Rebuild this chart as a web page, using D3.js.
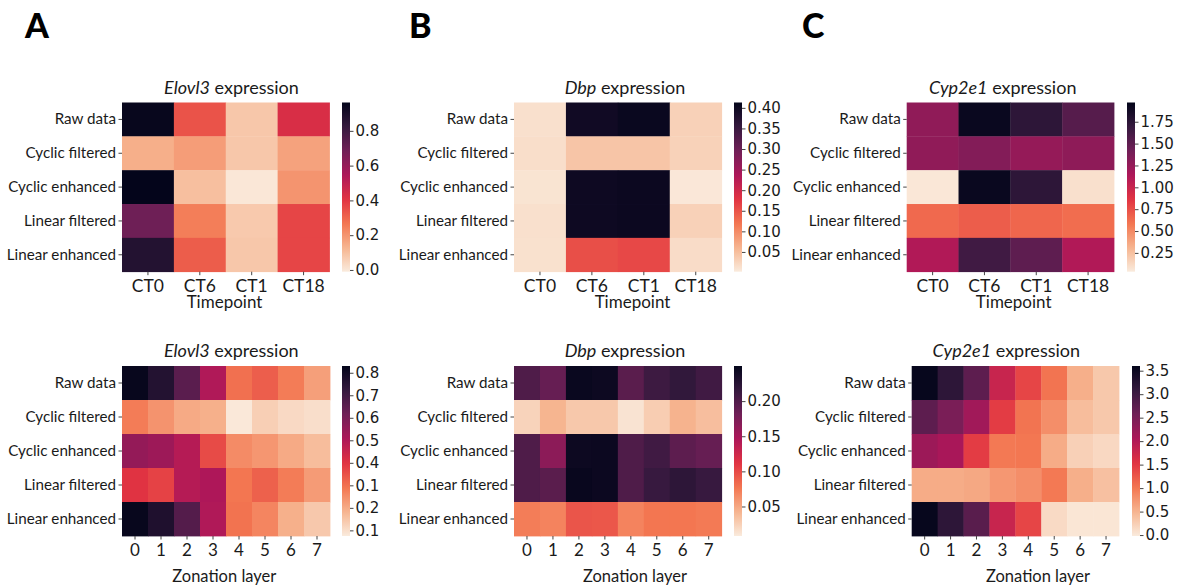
<!DOCTYPE html>
<html>
<head>
<meta charset="utf-8">
<script src="https://cdn.jsdelivr.net/npm/d3@7"></script>
<style>
  html, body { margin: 0; padding: 0; background: #fff; }
  svg { display: block; }
  .lbl { font-family: Lato, "Open Sans", sans-serif; fill: #1a1a1a; }
  .cbtick text { font-family: "DejaVu Sans", sans-serif; font-size: 15px; fill: #1a1a1a; }
  .tick line { stroke: #444; stroke-width: 1; }
</style>
</head>
<body>
<svg id="fig" width="1178" height="587"></svg>
<script>
// ---- categories ----
const methods = ["Raw data", "Cyclic filtered", "Cyclic enhanced", "Linear filtered", "Linear enhanced"];
const timepoints = ["CT0", "CT6", "CT1", "CT18"];
const layers = ["0", "1", "2", "3", "4", "5", "6", "7"];

// ---- expression by timepoint (rows = methods, cols = timepoints) ----
const elovl3Time = [
  [0.95, 0.34, 0.08, 0.43],
  [0.14, 0.18, 0.08, 0.17],
  [0.96, 0.10, 0.00, 0.20],
  [0.69, 0.25, 0.075, 0.37],
  [0.875, 0.32, 0.08, 0.37]
];
const dbpTime = [
  [0.014, 0.397, 0.405, 0.030],
  [0.016, 0.043, 0.043, 0.029],
  [0.010, 0.400, 0.403, 0.006],
  [0.014, 0.400, 0.403, 0.030],
  [0.013, 0.154, 0.160, 0.018]
];
const cyp2e1Time = [
  [1.27, 1.93, 1.74, 1.54],
  [1.27, 1.33, 1.25, 1.28],
  [0.055, 1.93, 1.74, 0.09],
  [0.64, 0.69, 0.655, 0.625],
  [1.12, 1.64, 1.50, 1.12]
];

// ---- expression by zonation layer (rows = methods, cols = layers) ----
const elovl3Zone = [
  [0.82, 0.76, 0.655, 0.50, 0.30, 0.33, 0.28, 0.22],
  [0.28, 0.24, 0.20, 0.19, 0.08, 0.13, 0.11, 0.10],
  [0.55, 0.535, 0.49, 0.36, 0.255, 0.235, 0.20, 0.165],
  [0.40, 0.375, 0.49, 0.505, 0.29, 0.325, 0.28, 0.227],
  [0.82, 0.77, 0.665, 0.50, 0.295, 0.265, 0.19, 0.143]
];
const dbpZone = [
  [0.200, 0.187, 0.245, 0.243, 0.194, 0.211, 0.218, 0.209],
  [0.023, 0.042, 0.030, 0.030, 0.013, 0.027, 0.043, 0.036],
  [0.200, 0.165, 0.243, 0.244, 0.200, 0.209, 0.192, 0.187],
  [0.200, 0.194, 0.246, 0.244, 0.200, 0.214, 0.221, 0.214],
  [0.073, 0.070, 0.094, 0.093, 0.070, 0.077, 0.077, 0.075]
];
const cyp2e1Zone = [
  [3.56, 3.17, 2.73, 1.79, 1.39, 1.03, 0.54, 0.31],
  [2.73, 2.48, 2.15, 1.46, 1.03, 0.81, 0.41, 0.31],
  [2.19, 2.08, 1.46, 0.99, 1.01, 0.56, 0.23, 0.16],
  [0.56, 0.56, 0.60, 0.74, 0.81, 0.99, 0.54, 0.38],
  [3.56, 3.17, 2.77, 1.79, 1.39, 0.14, 0.03, 0.03]
];

// ---- colour ranges and colorbar ticks ----
const elovl3TimeRange = [-0.01, 0.963];
const dbpTimeRange = [0.002, 0.413];
const cyp2e1TimeRange = [0.035, 1.97];
const elovl3ZoneRange = [0.075, 0.83];
const dbpZoneRange = [0.008, 0.25];
const cyp2e1ZoneRange = [-0.02, 3.6];

const elovl3TimeTicks = [0.0, 0.2, 0.4, 0.6, 0.8];
const elovl3TimeTickLabels = ["0.0", "0.2", "0.4", "0.6", "0.8"];
const dbpTimeTicks = [0.05, 0.10, 0.15, 0.20, 0.25, 0.30, 0.35, 0.40];
const dbpTimeTickLabels = ["0.05", "0.10", "0.15", "0.20", "0.25", "0.30", "0.35", "0.40"];
const cyp2e1TimeTicks = [0.25, 0.50, 0.75, 1.00, 1.25, 1.50, 1.75];
const cyp2e1TimeTickLabels = ["0.25", "0.50", "0.75", "1.00", "1.25", "1.50", "1.75"];
const elovl3ZoneTicks = [0.1, 0.2, 0.3, 0.4, 0.5, 0.6, 0.7, 0.8];
const elovl3ZoneTickLabels = ["0.1", "0.2", "0.1", "0.4", "0.5", "0.6", "0.7", "0.8"];
const dbpZoneTicks = [0.05, 0.10, 0.15, 0.20];
const dbpZoneTickLabels = ["0.05", "0.10", "0.15", "0.20"];
const cyp2e1ZoneTicks = [0.0, 0.5, 1.0, 1.5, 2.0, 2.5, 3.0, 3.5];
const cyp2e1ZoneTickLabels = ["0.0", "0.5", "1.0", "1.5", "2.0", "2.5", "3.0", "3.5"];

// reversed "rocket" colour map: light cream (low) to near-black (high)
const rocketStops = ["#03051a", "#35193e", "#701f57", "#ad1759", "#e13342", "#f37651", "#f6b48f", "#faebdd"];
const rocketR = d3.piecewise(d3.interpolateRgb, rocketStops.slice().reverse());

// ---- layout ----
const TOP = { y: 102.5, h: 169.2 };
const BOT = { y: 366, h: 170 };
const panels = [
  { gene: "Elovl3", data: elovl3Time, cols: timepoints, xTitle: "Timepoint", range: elovl3TimeRange, ticks: elovl3TimeTicks, tickLabels: elovl3TimeTickLabels,
    x: 122, w: 207.5, row: TOP, cbX: 342, titleX: 231.5, xTitleX: 224.5, zone: false },
  { gene: "Dbp", data: dbpTime, cols: timepoints, xTitle: "Timepoint", range: dbpTimeRange, ticks: dbpTimeTicks, tickLabels: dbpTimeTickLabels,
    x: 514, w: 207.7, row: TOP, cbX: 734, titleX: 625, xTitleX: 632.5, zone: false },
  { gene: "Cyp2e1", data: cyp2e1Time, cols: timepoints, xTitle: "Timepoint", range: cyp2e1TimeRange, ticks: cyp2e1TimeTicks, tickLabels: cyp2e1TimeTickLabels,
    x: 906.7, w: 207.3, row: TOP, cbX: 1127, titleX: 1002.7, xTitleX: 1013.7, zone: false },
  { gene: "Elovl3", data: elovl3Zone, cols: layers, xTitle: "Zonation layer", range: elovl3ZoneRange, ticks: elovl3ZoneTicks, tickLabels: elovl3ZoneTickLabels,
    x: 122, w: 208, row: BOT, cbX: 342, titleX: 231.3, xTitleX: 224.3, zone: true },
  { gene: "Dbp", data: dbpZone, cols: layers, xTitle: "Zonation layer", range: dbpZoneRange, ticks: dbpZoneTicks, tickLabels: dbpZoneTickLabels,
    x: 514, w: 207.7, row: BOT, cbX: 734, titleX: 625, xTitleX: 635, zone: true },
  { gene: "Cyp2e1", data: cyp2e1Zone, cols: layers, xTitle: "Zonation layer", range: cyp2e1ZoneRange, ticks: cyp2e1ZoneTicks, tickLabels: cyp2e1ZoneTickLabels,
    x: 911.7, w: 207.3, row: BOT, cbX: 1132, titleX: 1006.3, xTitleX: 1038, zone: true }
];
const CB_W = 8;

const svg = d3.select("#fig");
const defs = svg.append("defs");

panels.forEach((p, i) => {
  const g = svg.append("g");
  const y0 = p.row.y, h = p.row.h;

  const x = d3.scaleBand().domain(p.cols).range([p.x, p.x + p.w]).padding(0);
  const y = d3.scaleBand().domain(methods).range([y0, y0 + h]).padding(0);
  const color = d3.scaleSequential(rocketR).domain(p.range);

  // heatmap cells
  const cells = [];
  p.data.forEach((rowVals, r) => rowVals.forEach((v, c) => cells.push({ r: methods[r], c: p.cols[c], v })));
  g.append("g").selectAll("rect").data(cells).join("rect")
    .attr("x", d => x(d.c))
    .attr("y", d => y(d.r))
    .attr("width", x.bandwidth() + 0.4)
    .attr("height", y.bandwidth() + 0.4)
    .attr("fill", d => color(d.v));

  // row labels
  const yAxis = g.append("g").attr("transform", `translate(${p.x},0)`)
    .call(d3.axisLeft(y).tickSize(3.5).tickPadding(2.5));
  yAxis.select(".domain").remove();
  yAxis.selectAll("text").attr("class", "lbl").style("font-size", "15.2px");

  // column labels
  const xAxis = g.append("g").attr("transform", `translate(0,${y0 + h})`)
    .call(d3.axisBottom(x).tickSize(3.5).tickPadding(p.zone ? 4.5 : 4));
  xAxis.select(".domain").remove();
  xAxis.selectAll("text").attr("class", "lbl").style("font-size", p.zone ? "17px" : "17.5px");

  // axis title
  g.append("text").attr("class", "lbl")
    .attr("x", p.xTitleX).attr("y", p.zone ? 581.5 : 308)
    .attr("text-anchor", "middle").style("font-size", p.zone ? "16.5px" : "17px")
    .text(p.xTitle);

  // panel title
  const t = g.append("text").attr("class", "lbl")
    .attr("x", p.titleX).attr("y", y0 - 9)
    .attr("text-anchor", "middle").style("font-size", "18px");
  t.append("tspan").style("font-style", "italic").text(p.gene);
  t.append("tspan").text(" expression");

  // colorbar
  const gid = "cb" + i;
  const grad = defs.append("linearGradient").attr("id", gid)
    .attr("x1", 0).attr("y1", 1).attr("x2", 0).attr("y2", 0);
  d3.range(0, 1.0001, 0.02).forEach(f => {
    grad.append("stop").attr("offset", f).attr("stop-color", rocketR(f));
  });
  g.append("rect").attr("x", p.cbX).attr("y", y0).attr("width", CB_W).attr("height", h)
    .attr("fill", `url(#${gid})`);
  const cScale = d3.scaleLinear().domain(p.range).range([y0 + h, y0]);
  const cAxis = g.append("g").attr("class", "cbtick")
    .attr("transform", `translate(${p.cbX + CB_W},0)`)
    .call(d3.axisRight(cScale).tickValues(p.ticks).tickSize(3.5).tickPadding(2)
      .tickFormat((d, k) => p.tickLabels[k]));
  cAxis.select(".domain").remove();
  cAxis.selectAll("text").attr("font-family", null).attr("font-size", null);
});

// panel letters
const letters = [{ t: "A", x: 25 }, { t: "B", x: 409 }, { t: "C", x: 802 }];
svg.selectAll(".letter").data(letters).join("text")
  .attr("class", "lbl letter")
  .attr("x", d => d.x).attr("y", 37.5)
  .style("font-size", "34px").style("font-weight", "900").style("fill", "#000")
  .text(d => d.t);
</script>
</body>
</html>
